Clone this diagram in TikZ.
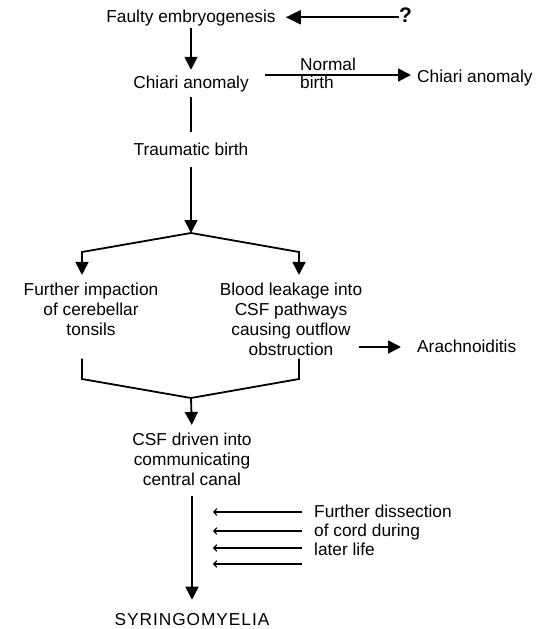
\documentclass[tikz,border=0pt]{standalone}
\usepackage{fontspec}
\setmainfont{Liberation Sans}
\newfontfamily\spacedfont[LetterSpace=5.5]{Liberation Sans}
\usetikzlibrary{arrows.meta}
\begin{document}
\begin{tikzpicture}[x=1pt,y=-1pt,
  every node/.style={inner sep=0pt, font=\fontsize{17.3}{20}\selectfont},
  txt/.style={align=center},
  conn/.style={line width=1.8pt},
  arr/.style={line width=1.8pt, -{Triangle[length=13pt,width=13pt]}},
  bigarr/.style={line width=1.8pt, -{Triangle[length=15pt,width=14pt]}},
  sarr/.style={line width=1.2pt, -{Straight Barb[length=3pt,width=6.5pt]}},
]
\useasboundingbox (0,0) rectangle (546,629);

% nodes
\node[anchor=base] (faulty) at (191,22.5) {Faulty embryogenesis};
\node[anchor=base west, font=\fontsize{21}{24}\selectfont\bfseries] (q) at (399,23) {?};
\node[anchor=base] (chiari) at (191,88) {Chiari anomaly};
\node[anchor=base west] (chiari2) at (417,82) {Chiari anomaly};
\node[anchor=west, align=left, font=\fontsize{17.3}{18}\selectfont] (nb) at (300,73) {Normal\\birth};
\node[anchor=base] (trauma) at (191,155) {Traumatic birth};
\node[txt] (lblock) at (91,309) {Further impaction\\of cerebellar\\tonsils};
\node[txt] (rblock) at (291,319) {Blood leakage into\\CSF pathways\\causing outflow\\obstruction};
\node[anchor=base west] (arach) at (417,352) {Arachnoiditis};
\node[txt] (csf) at (192,459) {CSF driven into\\communicating\\central canal};
\node[anchor=west, align=left, font=\fontsize{17.3}{19}\selectfont] (dis) at (314,530) {Further dissection\\of cord during\\later life};
\node[anchor=base, font=\fontsize{17.3}{20}\spacedfont] (syr) at (192,625) {SYRINGOMYELIA};

% coordinates
\coordinate (split) at (191,233);
\coordinate (sl) at (82,252);
\coordinate (sr) at (299,252);
\coordinate (bl) at (82,379);
\coordinate (br) at (299,379);
\coordinate (join) at (191,398);
\coordinate (nb0) at (265,75);
\coordinate (ar0) at (359,347);

% connectors
\draw[bigarr, shorten >=10pt] ([yshift=-1.6pt]q.west) -- ([yshift=-1.6pt]q.west -| faulty.east);
\draw[arr, shorten <=2pt, shorten >=5.5pt] (faulty.south) -- (chiari.north);
\draw[arr, shorten >=6pt] (nb0) -- (nb0 -| chiari2.west);
\draw[conn, shorten <=5.5pt, shorten >=10pt] (chiari.south) -- (trauma.north);
\draw[arr, shorten <=12pt] (trauma.south) -- (split);
\draw[arr, shorten >=7.5pt] (split) -- (sl) -- (sl |- lblock.north);
\draw[arr, shorten >=7.5pt] (split) -- (sr) -- (sr |- rblock.north);
\draw[arr, shorten >=16pt] (ar0) -- (ar0 -| arach.west);
\draw[conn, shorten <=23pt, shorten >=3pt] (bl |- lblock.south) -- (bl) -- (join) -- (br) -- (br |- rblock.south);
\draw[arr, shorten >=7.5pt] (join) -- (csf.north);
\draw[arr, shorten <=10pt, shorten >=13pt] (csf.south) -- (syr.north);

\foreach \i/\y in {1/512,2/531,3/548,4/564}{
  \coordinate (s\i) at (302,\y);
  \coordinate (t\i) at (213,\y);
  \draw[sarr] (s\i) -- (t\i);
}
\end{tikzpicture}
\end{document}
